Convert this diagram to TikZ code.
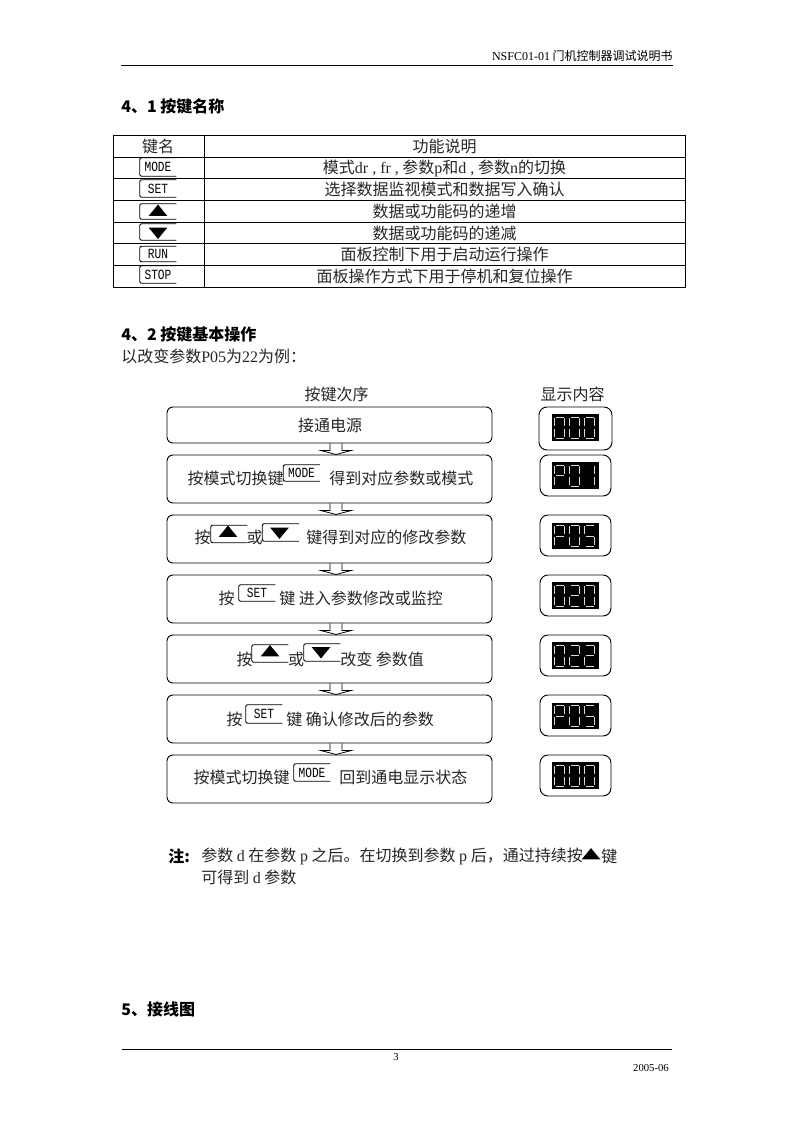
\documentclass[tikz,border=0pt]{standalone}
\usepackage{fontspec}
\setmainfont{Liberation Serif}
\newfontfamily\cjk{Noto Sans CJK SC}
\newfontfamily\keyfont[FakeStretch=.8]{Liberation Mono}
\usetikzlibrary{calc,positioning,shapes.geometric}

\def\segA{(1,0) -- (9,0)}
\def\segB{(10,1) -- (10,9)}
\def\segC{(10,12) -- (10,20)}
\def\segD{(1,21) -- (9,21)}
\def\segE{(0,12) -- (0,20)}
\def\segF{(0,1) -- (0,9)}
\def\segG{(1,10.5) -- (9,10.5)}
\expandafter\def\csname dig0\endcsname{A,B,C,D,E,F}
\expandafter\def\csname dig1\endcsname{B,C}
\expandafter\def\csname dig2\endcsname{A,B,G,E,D}
\expandafter\def\csname dig5\endcsname{A,F,G,C,D}
\expandafter\def\csname digP\endcsname{A,B,G,E,F}
\newcommand{\segdigit}[3]{%
  \begin{scope}[shift={(#1.north west)},xshift={#2*.75pt},yshift=-2.25pt]
    \expandafter\let\expandafter\dlist\csname dig#3\endcsname
    \foreach \q in \dlist {\draw[seg] \csname seg\q\endcsname;}
  \end{scope}}
\newcommand{\lat}[1]{{\rmfamily #1}}

\begin{document}
\begin{tikzpicture}[x=.75pt,y=-.75pt,
    txt/.style={font=\fontsize{12}{14}\selectfont\cjk,inner sep=0pt,text=black!85},
    head/.style={font=\fontsize{12}{14}\selectfont\cjk\bfseries,inner sep=0pt,anchor=west},
    small/.style={font=\fontsize{8}{10}\selectfont,inner sep=0pt},
    flowbox/.style={draw,line width=.7pt,rounded corners=4.5pt,minimum width=243.75pt},
    dispbox/.style={draw,line width=.7pt,rounded corners=6pt,minimum width=53.25pt},
    dispback/.style={fill=black,inner sep=0pt,minimum width=35.25pt,minimum height=20pt},
    seg/.style={white!85!black,line width=.55pt},
    keybox/.style={font=\fontsize{10.5}{12}\selectfont\keyfont,inner sep=0pt,minimum width=27pt},
    keyline/.style={line width=.7pt,rounded corners=1.5pt},
    triup/.style={isosceles triangle,isosceles triangle stretches,shape border rotate=90,fill=black,inner sep=0pt,minimum width=14pt,minimum height=8.5pt},
    tridown/.style={isosceles triangle,isosceles triangle stretches,shape border rotate=-90,fill=black,inner sep=0pt,minimum width=14pt,minimum height=8.5pt},
    blockline/.style={line width=.6pt}]
  \useasboundingbox (0,0) rectangle (793,1122);

  % page head and foot
  \node[font=\fontsize{9}{11}\selectfont\cjk,inner sep=0pt,anchor=east] (title) at (673,56) {\lat{NSFC01-01} 门机控制器调试说明书};
  \coordinate (hl) at (121,65); \coordinate (hr) at (673,65);
  \draw[line width=.6pt] (hl) -- (hr);
  \coordinate (fl) at (122,1049); \coordinate (fr) at (672,1049);
  \draw[line width=.6pt] (fl) -- (fr);
  \node[small] (page) at (396,1057) {3};
  \node[small,anchor=east] (date) at (669,1068) {2005-06};

  \node[head] (h41) at (121,106) {4、1 按键名称};
  \node[head] (h42) at (121,334) {4、2 按键基本操作};
  \node[txt,anchor=west] (ex) at (121,356) {以改变参数\lat{P05}为\lat{22}为例：};
  \node[head] (h5) at (121,1009) {5、接线图};

  % key table
  \draw[line width=.7pt] (113,135) rectangle (685,287);
  \draw[line width=.7pt] (204,135) -- (204,287);
  \foreach \y in {157,178,200,222,243,265} {
    \draw[line width=.7pt] (113,\y) -- (685,\y);
  }
  \node[txt] (t0) at (158,146) {键名};
  \node[txt] (c0) at (444.5,146) {功能说明};
  \node[txt] (c1) at (444.5,168) {模式\lat{dr , fr ,} 参数\lat{p}和\lat{d ,} 参数\lat{n}的切换};
  \node[txt] (c2) at (444.5,189) {选择数据监视模式和数据写入确认};
  \node[txt] (c3) at (444.5,211) {数据或功能码的递增};
  \node[txt] (c4) at (444.5,233) {数据或功能码的递减};
  \node[txt] (c5) at (444.5,254) {面板控制下用于启动运行操作};
  \node[txt] (c6) at (444.5,276) {面板操作方式下用于停机和复位操作};

  % keys
  \foreach \n/\x/\y/\h/\t in {k1/158/167/18/MODE,k2/158/188.5/17/SET,k3/158/211.5/15/{},k4/158/232/16/{},k5/158/254/15/RUN,k6/158/274.5/17/STOP,
      f1/301.5/473/16/MODE,f2/229/534/17/{},f3/280.5/532.5/17/{},f4/257/593/16/SET,f5/270/653.5/17/{},f6/322/652.5/17/{},f7/264/714/18/SET,f8/312/772.5/17/MODE} {
    \node[keybox,minimum height={\h*.75pt}] (\n) at (\x,\y) {\t};
    \draw[keyline] (\n.north east) -- (\n.north west) -- (\n.south west) -- (\n.south east);
  }
  \node[triup] (u1) at (k3) {};
  \node[tridown] (d1) at (k4) {};
  \node[triup] (u2) at (228,532.5) {};
  \node[tridown] (d2) at (279.5,532) {};
  \node[triup] (u3) at (270,652) {};
  \node[tridown] (d3) at (321,651.5) {};

  % flow
  \node[txt] (seq) at (336.5,394) {按键次序};
  \node[txt] (show) at (572.5,394) {显示内容};
  \foreach \n/\y/\h in {b1/425/36,b2/479/48,b3/539/48,b4/599/48,b5/659/48,b6/719/48,b7/779/48} {
    \node[flowbox,minimum height={\h*.75pt}] (\n) at (329.5,\y) {};
  }
  \foreach \a/\b in {b1/b2,b2/b3,b3/b4,b4/b5,b5/b6,b6/b7} {
    \draw[blockline] ($(\a.south)+(.5,0)$) -- ($(\b.north)+(.5,-4)$) -- ($(\b.north)+(-8.5,-4)$) -- ($(\b.north)+(6.5,0)$)
      -- ($(\b.north)+(21.5,-4)$) -- ($(\b.north)+(12.5,-4)$) -- ($(\a.south)+(12.5,0)$);
  }
  \node[txt] (l1) at (330,425) {接通电源};
  \node[txt,anchor=east] (l2a) at (284,478) {按模式切换键};
  \node[txt,anchor=west] (l2b) at (329,478) {得到对应参数或模式};
  \node[txt,anchor=east] (l3a) at (211,537) {按};
  \node[txt] (l3b) at (254.5,537) {或};
  \node[txt,anchor=west] (l3c) at (306,537) {键得到对应的修改参数};
  \node[txt,anchor=east] (l4a) at (235,598) {按};
  \node[txt,anchor=west] (l4b) at (279,598) {键 进入参数修改或监控};
  \node[txt,anchor=east] (l5a) at (253,659) {按};
  \node[txt] (l5b) at (296,659) {或};
  \node[txt,anchor=west] (l5c) at (340,659) {改变 参数值};
  \node[txt,anchor=east] (l6a) at (243,719) {按};
  \node[txt,anchor=west] (l6b) at (286,719) {键 确认修改后的参数};
  \node[txt,anchor=east] (l7a) at (290,777) {按模式切换键};
  \node[txt,anchor=west] (l7b) at (339,777) {回到通电显示状态};

  % displays
  \node[dispbox,minimum width=54.75pt,minimum height=32.25pt] (d01) at (575.5,428.5) {};
  \foreach \n/\y/\h in {d02/475.5/41,d03/535.5/41,d04/595.5/41,d05/655.5/41,d06/715.5/41,d07/775.5/41} {
    \node[dispbox,minimum height={\h*.75pt}] (\n) at (575.5,\y) {};
  }
  \foreach \n/\y in {s1/427.5,s2/475.5,s3/536,s4/595.5,s5/655.5,s6/716,s7/775.5} {
    \node[dispback] (\n) at (575.5,\y) {};
  }
  \foreach \s/\a/\b/\c in {s1/0/0/0,s2/P/0/1,s3/P/0/5,s4/0/2/0,s5/0/2/2,s6/P/0/5,s7/0/0/0} {
    \segdigit{\s}{3}{\a}
    \segdigit{\s}{18}{\b}
    \segdigit{\s}{33}{\c}
  }

  % note
  \node[font=\fontsize{12}{14}\selectfont\cjk\bfseries,inner sep=0pt,anchor=west] (n0) at (168,856) {注:};
  \node[txt,anchor=west] (n1) at (201,856) {参数 \lat{d} 在参数 \lat{p} 之后。在切换到参数 \lat{p} 后，通过持续按};
  \node[triup] (u4) at (591,855) {};
  \node[txt,anchor=west] (n2) at (601,856) {键};
  \node[txt,anchor=west] (n3) at (201,877) {可得到 \lat{d} 参数};
\end{tikzpicture}
\end{document}
